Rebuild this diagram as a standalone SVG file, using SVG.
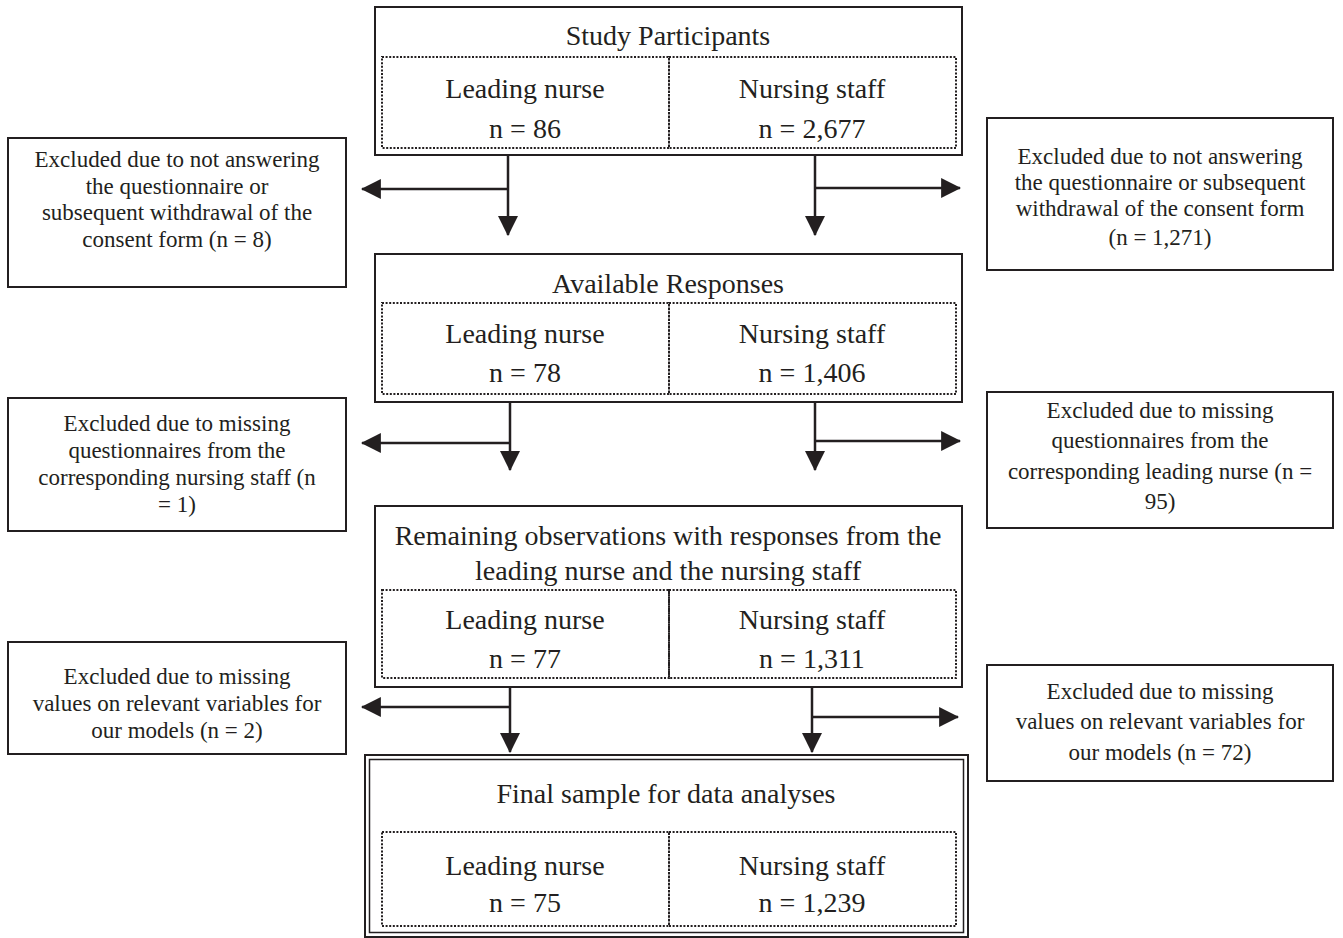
<svg xmlns="http://www.w3.org/2000/svg" width="1343" height="938" viewBox="0 0 1343 938">
<defs>
<style>
.box{fill:#fff;stroke:#231f20;stroke-width:2}
.dot{fill:none;stroke:#231f20;stroke-width:2;stroke-dasharray:2 1.6}
.t{font-family:"Liberation Serif","Times New Roman",serif;fill:#231f20;text-anchor:middle}
.h{font-size:28px}
.s{font-size:23px}
.c{fill:none;stroke:#231f20;stroke-width:2.5}
</style>
<marker id="ah" markerUnits="userSpaceOnUse" markerWidth="20" markerHeight="20" viewBox="0 0 18 18" refX="17" refY="9" orient="auto">
<path d="M0,0 L18,9 L0,18 Z" fill="#231f20"/>
</marker>
</defs>
<rect width="1343" height="938" fill="#fff"/>

<g id="study">
<rect class="box" x="375" y="7" width="587" height="148"/>
<rect class="dot" x="382" y="57" width="287" height="91"/>
<rect class="dot" x="669" y="57" width="287" height="91"/>
<text class="t h" x="668" y="45">Study Participants</text>
<text class="t h" x="525" y="98">Leading nurse</text>
<text class="t h" x="525" y="138">n = 86</text>
<text class="t h" x="812" y="98">Nursing staff</text>
<text class="t h" x="812" y="138">n = 2,677</text>
</g>

<g id="excl1L">
<rect class="box" x="8" y="138" width="338" height="149"/>
<text class="t s" x="177" y="167">Excluded due to not answering</text>
<text class="t s" x="177" y="194">the questionnaire or</text>
<text class="t s" x="177" y="220">subsequent withdrawal of the</text>
<text class="t s" x="177" y="247">consent form (n = 8)</text>
</g>

<g id="excl1R">
<rect class="box" x="987" y="118" width="346" height="152"/>
<text class="t s" x="1160" y="164">Excluded due to not answering</text>
<text class="t s" x="1160" y="190">the questionnaire or subsequent</text>
<text class="t s" x="1160" y="216">withdrawal of the consent form</text>
<text class="t s" x="1160" y="245">(n = 1,271)</text>
</g>

<g id="available">
<rect class="box" x="375" y="254" width="587" height="148"/>
<rect class="dot" x="382" y="303" width="287" height="91"/>
<rect class="dot" x="669" y="303" width="287" height="91"/>
<text class="t h" x="668" y="293">Available Responses</text>
<text class="t h" x="525" y="343">Leading nurse</text>
<text class="t h" x="525" y="382">n = 78</text>
<text class="t h" x="812" y="343">Nursing staff</text>
<text class="t h" x="812" y="382">n = 1,406</text>
</g>

<g id="excl2L">
<rect class="box" x="8" y="398" width="338" height="133"/>
<text class="t s" x="177" y="431">Excluded due to missing</text>
<text class="t s" x="177" y="458">questionnaires from the</text>
<text class="t s" x="177" y="485">corresponding nursing staff (n</text>
<text class="t s" x="177" y="512">= 1)</text>
</g>

<g id="excl2R">
<rect class="box" x="987" y="392" width="346" height="136"/>
<text class="t s" x="1160" y="418">Excluded due to missing</text>
<text class="t s" x="1160" y="448">questionnaires from the</text>
<text class="t s" x="1160" y="479">corresponding leading nurse (n =</text>
<text class="t s" x="1160" y="509">95)</text>
</g>

<g id="remaining">
<rect class="box" x="375" y="506" width="587" height="181"/>
<rect class="dot" x="382" y="590" width="287" height="88"/>
<rect class="dot" x="669" y="590" width="287" height="88"/>
<text class="t h" x="668" y="545">Remaining observations with responses from the</text>
<text class="t h" x="668" y="580">leading nurse and the nursing staff</text>
<text class="t h" x="525" y="629">Leading nurse</text>
<text class="t h" x="525" y="668">n = 77</text>
<text class="t h" x="812" y="629">Nursing staff</text>
<text class="t h" x="812" y="668">n = 1,311</text>
</g>

<g id="excl3L">
<rect class="box" x="8" y="642" width="338" height="112"/>
<text class="t s" x="177" y="684">Excluded due to missing</text>
<text class="t s" x="177" y="711">values on relevant variables for</text>
<text class="t s" x="177" y="738">our models (n = 2)</text>
</g>

<g id="excl3R">
<rect class="box" x="987" y="665" width="346" height="116"/>
<text class="t s" x="1160" y="699">Excluded due to missing</text>
<text class="t s" x="1160" y="729">values on relevant variables for</text>
<text class="t s" x="1160" y="760">our models (n = 72)</text>
</g>

<g id="final">
<rect class="box" x="365" y="755" width="603" height="182"/>
<rect fill="none" stroke="#231f20" stroke-width="1.5" x="369.5" y="759.5" width="594" height="173"/>
<rect class="dot" x="382" y="832" width="287" height="94"/>
<rect class="dot" x="669" y="832" width="287" height="94"/>
<text class="t h" x="666" y="803">Final sample for data analyses</text>
<text class="t h" x="525" y="875">Leading nurse</text>
<text class="t h" x="525" y="912">n = 75</text>
<text class="t h" x="812" y="875">Nursing staff</text>
<text class="t h" x="812" y="912">n = 1,239</text>
</g>

<g id="connectors">
<path class="c" d="M508,155 V235" marker-end="url(#ah)"/>
<path class="c" d="M508,189 H362" marker-end="url(#ah)"/>
<path class="c" d="M815,155 V235" marker-end="url(#ah)"/>
<path class="c" d="M815,188 H960" marker-end="url(#ah)"/>
<path class="c" d="M510,402 V470" marker-end="url(#ah)"/>
<path class="c" d="M510,443 H362" marker-end="url(#ah)"/>
<path class="c" d="M815,402 V470" marker-end="url(#ah)"/>
<path class="c" d="M815,441 H960" marker-end="url(#ah)"/>
<path class="c" d="M510,687 V752" marker-end="url(#ah)"/>
<path class="c" d="M510,707 H362" marker-end="url(#ah)"/>
<path class="c" d="M812,687 V752" marker-end="url(#ah)"/>
<path class="c" d="M812,717 H958" marker-end="url(#ah)"/>
</g>
</svg>
